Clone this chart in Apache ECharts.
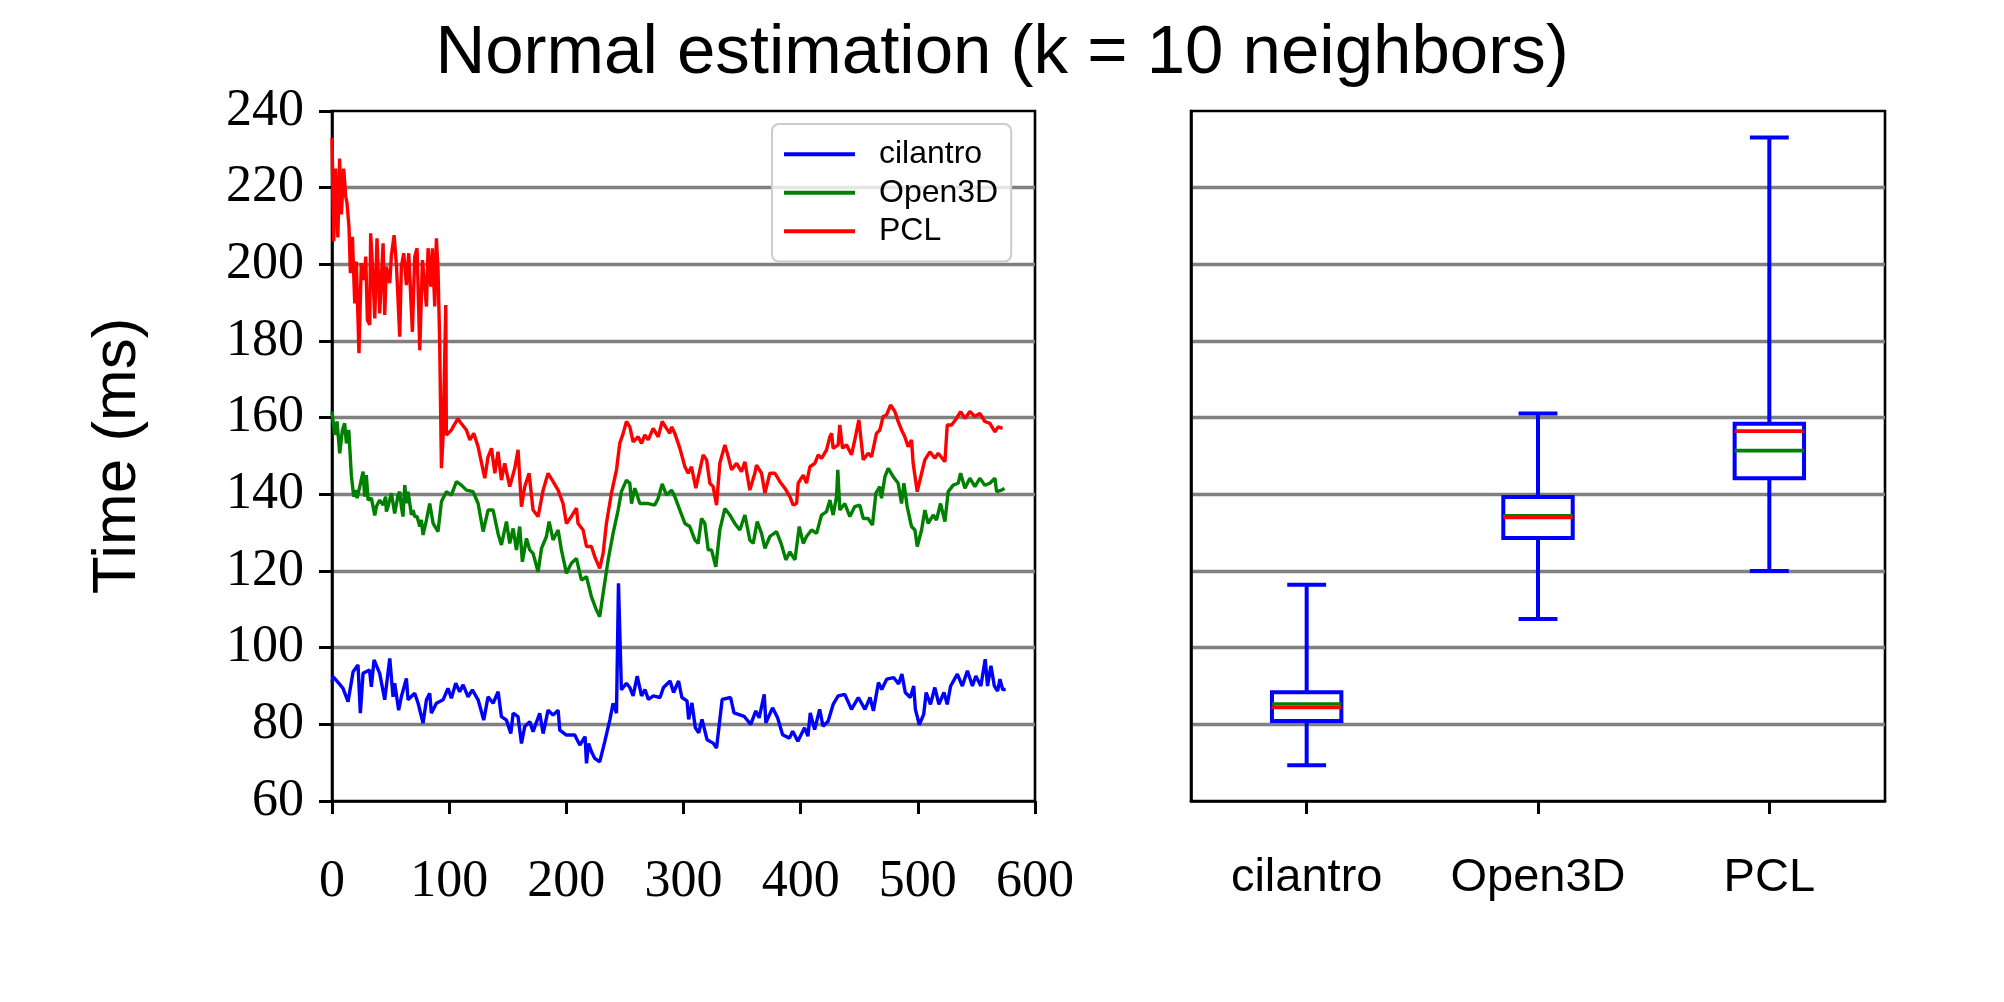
<!DOCTYPE html>
<html>
<head>
<meta charset="utf-8">
<script src="https://cdn.jsdelivr.net/npm/echarts@6/dist/echarts.min.js"></script>
<style>html,body{margin:0;padding:0;background:#fff}#c{width:2004px;height:1002px}</style>
</head>
<body>
<div id="c"></div>
<script>
// ---- data ----
const titleText = 'Normal estimation (k = 10 neighbors)';
const yAxisTitle = 'Time (ms)';
const seriesNames = ['cilantro', 'Open3D', 'PCL'];

const cilantroData = [[0,91],[1,92.4],[5,91],[9.4,89.4],[13.7,85.9],[18,93.7],[22.2,95.5],[24.2,82.9],[26.5,93.3],[32,94.2],[33.6,89.8],[35.9,96.8],[40.7,93.3],[45,86.4],[49.3,97.2],[52.1,87.2],[53.5,90.7],[56.9,83.7],[59.2,87.2],[63.5,92],[64.9,86.4],[70.6,88.1],[73.5,85.5],[77.7,80.3],[80.6,86.4],[83.4,88.1],[84.8,82.9],[89.1,85.5],[94.8,86.4],[99,89.4],[101.9,86.8],[105.6,90.7],[109,88.5],[111.9,90.3],[116.1,87.2],[119.8,89],[124.7,86.4],[129.5,81.1],[133.2,87.2],[137.5,85.5],[141.8,88.5],[144.6,82],[148.9,81.1],[152.6,77.6],[154.6,82.9],[158.8,82],[161.7,75],[164.5,79.4],[168.8,80.7],[171.6,78.1],[177.3,82.9],[180.2,77.6],[184.4,83.7],[188.7,82.4],[193,83.7],[194.4,78.5],[200.1,77.2],[207.2,77.2],[211.5,74.6],[216,76.8],[217.2,69.8],[219,75],[221.4,72.9],[224.3,71.1],[228.5,70.2],[232.8,75.5],[237.1,81.1],[239.9,85.5],[242.8,82.9],[244.5,116.8],[247,89],[251.3,90.7],[254.2,89.6],[257,87.4],[260.5,92.6],[264.2,87.4],[267.1,89.1],[270,86.5],[274.3,87.4],[280,87],[282.9,89.6],[288.6,91.3],[291.5,88.3],[295.8,91.3],[298.6,87],[303,86.1],[304.4,81.3],[307.2,85.6],[310.1,79.1],[313,77.8],[315.8,81.3],[320.1,76],[325.3,75.1],[328.2,73.8],[333,86.5],[340.2,87],[343.1,83],[351.7,82.1],[357.4,80],[361.7,83.5],[364.6,81.7],[368.9,87.8],[370.3,80.4],[376,84.3],[380.3,81.7],[384.6,77.3],[390.4,76.4],[393.2,78.2],[397.6,75.6],[403.3,79.1],[406.2,76.9],[408.2,83],[411.9,78.6],[416.2,83.9],[419.1,79.5],[423.4,80.8],[427.7,85.2],[432,87.4],[437.7,87.8],[443.4,83.9],[449.2,87],[454.9,83.9],[459.2,87],[462.1,83.5],[466.4,90.9],[469.2,89.1],[473.5,91.8],[479.3,92.2],[483.6,90.5],[486.4,93.1],[489.3,88.3],[493.6,87],[496.5,90],[497.9,83.9],[501.3,79.9],[505,82.6],[507.1,88.3],[510.8,85.2],[514.5,89.6],[518,85.2],[522.3,88.3],[525.1,85.2],[528,90],[533.7,93.1],[538,90],[542.3,94],[546.6,90],[549.5,92.6],[553.8,90],[557.5,97],[559.5,90],[562.4,95.3],[565.3,90],[568.1,88.7],[570.1,91.8],[572.4,89.1],[575,89.1]];

const open3dData = [[0,161.6],[2.3,155.5],[4.3,159],[6.6,150.7],[8.9,156.8],[10.8,158.5],[12.3,153.3],[14.3,156.8],[16.5,145],[18.5,139.4],[20.2,141.1],[21.4,139],[23.7,142],[26.5,145.9],[27.9,139.4],[29.3,145],[30.8,138.5],[33.6,139],[36.5,134.5],[37.9,136.8],[40.7,138.5],[42.1,138.5],[43.6,137.2],[45.8,139.4],[46.4,135.5],[47.8,136.8],[50.7,140.3],[53.5,135],[56.4,139.8],[57.8,140.7],[59.2,136.8],[60.6,134.2],[62.1,142.4],[63.5,137.7],[64.9,140.7],[66.3,140.7],[67.8,134.6],[69.2,135.9],[70.6,134.2],[72.6,134.2],[74.9,131.6],[76.3,133.3],[77.7,129.4],[80.6,133.3],[83.4,137.6],[86.3,132.4],[90.5,130.3],[93.4,138.1],[97.6,140.7],[101.9,139.8],[106.2,143.3],[110.4,142.4],[114.7,141.1],[120.4,140.7],[124.7,137.6],[129,130.3],[133.2,135.9],[137.5,135.9],[141.7,129.8],[144.6,126.8],[148.9,132.9],[151.7,127.2],[154.6,131.1],[157.4,125.5],[160.2,131.6],[162.5,122.4],[166,128.5],[168.8,125.5],[171.6,124.6],[175.9,119.8],[178.8,125.9],[183,129],[185.3,132.9],[188.7,128.1],[193,130.7],[195.8,125.5],[200.1,119.4],[204.3,122],[208.6,123.3],[212.9,117.6],[217.2,118.5],[221.4,113.3],[225.7,109.8],[228.5,108.1],[231.4,114.2],[235.7,122.9],[239.9,129.8],[244.2,135.9],[247,140.7],[251.3,143.7],[254.2,142.9],[255.6,137.6],[258.4,141.6],[259.9,140.3],[262.7,137.6],[264.2,137.6],[269.9,137.6],[275.5,137.2],[278.4,139],[281.8,142.7],[285.5,139.8],[289.8,141.1],[292.6,139.4],[296.9,135.9],[301.2,132.4],[305.4,131.6],[309.7,128.1],[312.5,127.2],[315.4,133.7],[318.2,132.4],[321.1,125.5],[323.9,125.5],[327.6,121.1],[331,130.7],[335.3,136.3],[339.6,134.6],[343.8,132.4],[348.1,130.7],[352.4,134.6],[356.6,128.1],[359.5,127.2],[362.9,132.9],[366.6,129.8],[369.5,125.9],[373.7,129],[379.4,130.3],[383.7,126.8],[387.4,122.9],[390.8,125],[395.1,122.9],[398.8,131.6],[402.2,127.2],[405,129],[409.3,130.7],[413.6,129.8],[417.8,134.6],[422.1,135.5],[425,138.5],[427.7,134.6],[430.6,139.4],[431.7,146.4],[433.4,135.9],[437.7,137.6],[442,134.2],[446.2,136.8],[450.5,137.2],[453.4,133.7],[457.6,133.7],[461.3,132],[464.2,140.3],[467.6,142],[469,139],[471.9,144.6],[474.7,146.8],[479,144.6],[483.2,142.9],[486.1,137.6],[488.1,142.9],[490.9,136.8],[494.6,131.6],[497.5,130.7],[499.5,126.4],[503.2,130.7],[506,135.9],[508.8,132.4],[513.1,134.6],[515.9,133.3],[519.4,137.6],[523.1,132.9],[525.9,140.7],[530.2,142.4],[534.5,142.9],[536.5,145.5],[540.2,141.6],[544.4,144.2],[548.7,142],[552.9,144.2],[557.2,142.4],[561.5,142.9],[565.8,144.2],[567.2,140.7],[571.5,141.1],[574,141.5]];

const pclData = [[0,233],[1.5,206],[3,225],[5,207],[6.5,227.6],[8,213],[10,225],[11.7,217.7],[12.8,216],[14.5,209.8],[15.7,197.7],[17.4,207.2],[19.4,189.8],[20.8,200.7],[23,176.8],[25,200.3],[27.4,195.9],[28.8,202],[30.2,185.5],[32.2,184.2],[33,208.1],[35,196.8],[36.5,185.9],[38.4,206.8],[40.7,187.2],[43.6,205.5],[45,186.8],[46.4,199.4],[49.3,195.1],[50.7,202.4],[53,207.6],[55,199.8],[57.8,181.1],[59.2,199.4],[61.2,202.9],[63.5,194.6],[65.5,202.9],[68.6,182.4],[70.6,202],[72.6,204.2],[74.9,177.6],[77.2,201.1],[80.6,189],[82,204.2],[84.3,194.2],[85.7,204.2],[87.7,189],[89.1,206.8],[90.5,198.5],[91.9,179.4],[93.4,146.8],[94.8,155],[97.1,189.4],[97.6,155.5],[99,155.9],[101.9,156.8],[103.3,157.6],[107.6,159.8],[109,159],[114.7,156.8],[117.6,154.2],[121,155.9],[124.7,152.4],[130.4,144.2],[133.2,149.8],[136.1,152],[139,145.5],[141.7,151.1],[144.6,143.7],[147.4,148.1],[151.7,142],[156,146.8],[158.8,151.6],[161.7,136.8],[164.5,142],[168.2,145.5],[171.6,135.9],[175.9,134.2],[180.2,141.1],[184.4,145.5],[188.7,143.3],[193,141.1],[197.2,137.6],[200.1,132.4],[204.3,134.2],[208.6,136.4],[210,132.4],[214.3,130.7],[217.2,126.4],[221.4,126.4],[224.3,123.7],[228.5,120.7],[231.4,124.6],[234.2,132.4],[238.5,140.3],[242.8,146.4],[245.6,153.3],[248.5,155.9],[251.3,159],[254.2,157.6],[257,153.7],[261.3,155],[264.2,153.3],[267,155.5],[269.9,154.2],[274.1,157.2],[278.4,155],[281.8,159],[285.5,157.2],[288.3,155.9],[289.8,157.6],[292.6,155.9],[296.9,152],[301.2,147.2],[304,145.5],[306.8,147.2],[310.5,141.6],[314,146.4],[316.8,150.3],[319.7,149],[322.5,142.9],[325.3,142],[328.2,137.2],[331,148.1],[335.3,152.9],[338.2,149.8],[341,146.4],[345.3,148.1],[349.5,145.9],[352.4,148.5],[356.6,141.1],[360.9,145.5],[362.3,147.6],[366.6,145.5],[369.5,140.3],[373.7,145.5],[378,145.5],[382.3,143.3],[386.5,141.6],[390.8,139.4],[393.6,137.2],[396.5,137.6],[397.9,142.9],[402.2,145],[405,142.9],[407.9,147.2],[412.1,148.1],[415,150.3],[417.8,149.4],[422.1,151.6],[424.9,155],[426.4,155.9],[427.7,152],[432,152.9],[433.4,158.1],[435.7,152],[439.1,152.9],[443.4,150.3],[446.2,154.2],[449.7,159.4],[453.4,149],[457.6,150.7],[460.5,149.8],[464.7,155.9],[467.6,156.8],[470.4,160.3],[473.3,160.7],[476.7,163.3],[480.4,161.6],[483.2,159],[486.1,156.8],[488.9,155],[491.8,152.4],[494.6,154.2],[496,148.1],[499.5,140.7],[503.2,145.5],[506,149],[510.3,151.1],[514.5,149.4],[517.4,150.7],[523.1,148.5],[525.1,158.1],[528.8,158.1],[533,159.8],[536.5,161.6],[540.2,159.8],[544.4,161.6],[548.7,160.3],[552.9,161.1],[557.2,159],[561.5,158.5],[565.8,156.3],[568.6,157.6],[572.3,157.2]];

// box plot statistics per library
const boxCategories = ['cilantro', 'Open3D', 'PCL'];
const boxMin    = [69.3, 107.5, 120.0];
const boxQ1     = [80.9, 128.6, 144.2];
const boxMedian = [85.3, 134.4, 151.4];
const boxMean   = [84.4, 134.0, 156.5];
const boxQ3     = [88.4, 139.3, 158.4];
const boxMax    = [116.4, 161.1, 233.1];

const yTicks = {min: 60, max: 240, interval: 20};
const xTicks = {min: 0, max: 600, interval: 100};

// ---- chart ----
const chart = echarts.init(document.getElementById('c'), null, {renderer: 'canvas'});
const serif = 'Liberation Serif';
const sans = 'Liberation Sans';
const gridColor = '#808080';

const boxRows = boxCategories.map((c, i) => [i, boxMin[i], boxQ1[i], boxMedian[i], boxQ3[i], boxMax[i], boxMean[i]]);

function renderBox(params, api) {
  const i = api.value(0);
  const catW = api.size([1, 0])[0];
  const bw = catW * 0.3 / 2;
  const cw = bw * 0.56;
  const pMin = api.coord([i, api.value(1)]);
  const pQ1 = api.coord([i, api.value(2)]);
  const pMed = api.coord([i, api.value(3)]);
  const pQ3 = api.coord([i, api.value(4)]);
  const pMax = api.coord([i, api.value(5)]);
  const pMean = api.coord([i, api.value(6)]);
  const cx = pQ1[0];
  const blue = {stroke: '#0000ff', lineWidth: 4, fill: null};
  return {
    type: 'group',
    children: [
      {type: 'line', shape: {x1: cx, y1: pQ3[1], x2: cx, y2: pMax[1]}, style: blue},
      {type: 'line', shape: {x1: cx, y1: pQ1[1], x2: cx, y2: pMin[1]}, style: blue},
      {type: 'line', shape: {x1: cx - cw, y1: pMax[1], x2: cx + cw, y2: pMax[1]}, style: blue},
      {type: 'line', shape: {x1: cx - cw, y1: pMin[1], x2: cx + cw, y2: pMin[1]}, style: blue},
      {type: 'rect', shape: {x: cx - bw, y: pQ3[1], width: 2 * bw, height: pQ1[1] - pQ3[1]}, style: {stroke: '#0000ff', lineWidth: 4, fill: '#ffffff'}},
      {type: 'line', shape: {x1: cx - bw, y1: pMed[1], x2: cx + bw, y2: pMed[1]}, style: {stroke: '#008000', lineWidth: 3.6}},
      {type: 'line', shape: {x1: cx - bw, y1: pMean[1], x2: cx + bw, y2: pMean[1]}, style: {stroke: '#ff0000', lineWidth: 3.6}}
    ]
  };
}

const axisBlack = {show: true, lineStyle: {color: '#000', width: 2.6}};
const tickStyle = {show: true, length: 13, inside: false, interval: 0, lineStyle: {color: '#000', width: 3}};
const split = {show: true, showMinLine: false, showMaxLine: false, lineStyle: {color: gridColor, width: 3.4}};

const option = {
  animation: false,
  backgroundColor: '#ffffff',
  title: {
    text: titleText, left: 'center', top: 14,
    textStyle: {fontFamily: sans, fontSize: 69, fontWeight: 'normal', color: '#000'}
  },
  grid: [
    {left: 332, top: 111, width: 703, height: 690, show: true, borderColor: '#000', borderWidth: 2.6, backgroundColor: 'transparent'},
    {left: 1191, top: 111, width: 694, height: 690, show: true, borderColor: '#000', borderWidth: 2.6, backgroundColor: 'transparent'}
  ],
  legend: {
    data: seriesNames,
    orient: 'vertical',
    left: 772, top: 124,
    padding: [11, 13, 11, 12],
    itemGap: 0,
    itemWidth: 71, itemHeight: 4,
    icon: 'rect',
    borderColor: '#cccccc', borderWidth: 2, borderRadius: 7,
    backgroundColor: 'rgba(255,255,255,0.8)',
    textStyle: {fontFamily: sans, fontSize: 32, color: '#000', lineHeight: 38.5, padding: [0, 0, 0, 19]}
  },
  xAxis: [
    {
      type: 'value', gridIndex: 0, min: xTicks.min, max: xTicks.max, interval: xTicks.interval,
      axisLine: axisBlack, axisTick: tickStyle, splitLine: {show: false},
      axisLabel: {fontFamily: serif, fontSize: 52, color: '#000', margin: 55, hideOverlap: false}
    },
    {
      type: 'category', gridIndex: 1, data: boxCategories, boundaryGap: true,
      axisLine: axisBlack, axisTick: Object.assign({}, tickStyle, {alignWithLabel: true, interval: 0}), splitLine: {show: false},
      axisLabel: {fontFamily: sans, fontSize: 47, color: '#000', margin: 54, interval: 0, hideOverlap: false}
    }
  ],
  yAxis: [
    {
      type: 'value', gridIndex: 0, min: yTicks.min, max: yTicks.max, interval: yTicks.interval,
      axisLine: axisBlack, axisTick: tickStyle, splitLine: split,
      axisLabel: {fontFamily: serif, fontSize: 52, color: '#000', margin: 28}
    },
    {
      type: 'value', gridIndex: 1, min: yTicks.min, max: yTicks.max, interval: yTicks.interval,
      axisLine: axisBlack, axisTick: {show: false}, splitLine: split,
      axisLabel: {show: false}
    }
  ],
  graphic: [
    {type: 'text', x: 118, y: 456, rotation: Math.PI / 2,
     style: {text: yAxisTitle, fontFamily: sans, fontSize: 62, fill: '#000', align: 'center', verticalAlign: 'middle'}}
  ],
  series: [
    {name: seriesNames[0], type: 'line', xAxisIndex: 0, yAxisIndex: 0, data: cilantroData, showSymbol: false, symbol: 'none',
     lineStyle: {color: '#0000ff', width: 3.4}, itemStyle: {color: '#0000ff'}, z: 3},
    {name: seriesNames[1], type: 'line', xAxisIndex: 0, yAxisIndex: 0, data: open3dData, showSymbol: false, symbol: 'none',
     lineStyle: {color: '#008000', width: 3.4}, itemStyle: {color: '#008000'}, z: 3},
    {name: seriesNames[2], type: 'line', xAxisIndex: 0, yAxisIndex: 0, data: pclData, showSymbol: false, symbol: 'none',
     lineStyle: {color: '#ff0000', width: 3.4}, itemStyle: {color: '#ff0000'}, z: 3},
    {type: 'custom', xAxisIndex: 1, yAxisIndex: 1, data: boxRows, renderItem: renderBox, z: 3,
     encode: {x: 0, y: [1, 2, 3, 4, 5]}}
  ]
};
chart.setOption(option);
</script>
</body>
</html>
